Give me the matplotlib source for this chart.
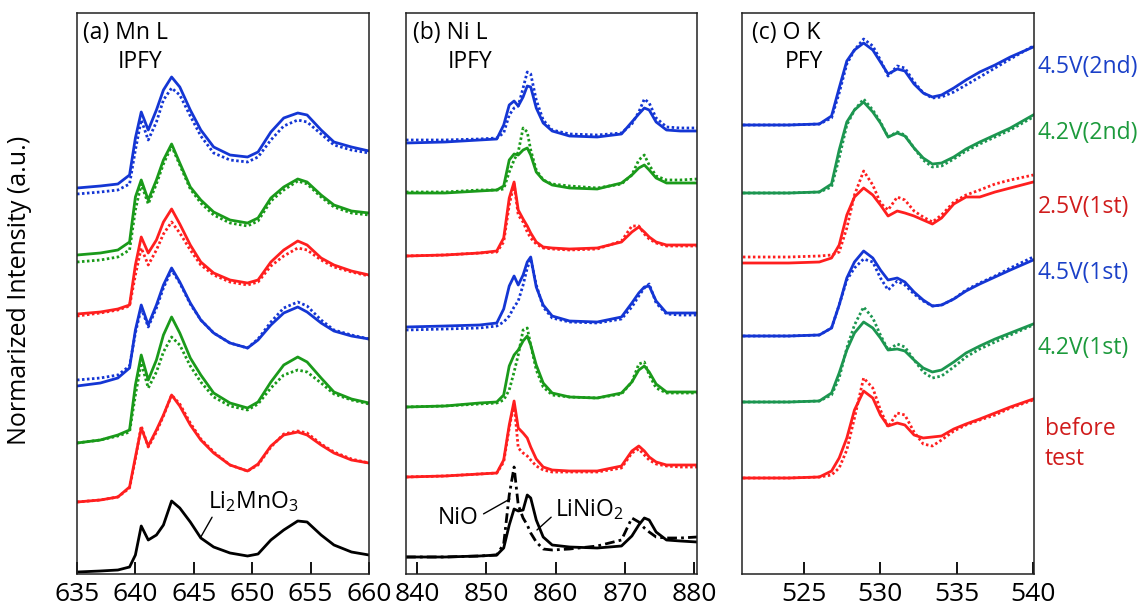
import numpy as np
import matplotlib
matplotlib.use("Agg")
import matplotlib.pyplot as plt

plt.rcParams['font.family'] = ['Open Sans', 'DejaVu Sans']
plt.rcParams['mathtext.default'] = 'regular'

# ---- data ----
labels = ['4.5V(2nd)', '4.2V(2nd)', '2.5V(1st)', '4.5V(1st)', '4.2V(1st)', 'before\ntest']

# (a) Mn L-edge, IPFY
e_mn = [635, 637, 638.5, 639.5, 640.0, 640.5, 641.1, 641.8, 642.4, 643.1, 643.8, 644.7, 645.6,
        646.7, 648.1, 649.6, 650.5, 651.6, 652.7, 653.9, 654.7, 655.9, 657.0, 658.5, 660]
mn_45v_2nd = [0, .02, .04, .13, .50, .76, .58, .78, .98, 1.11, 1.01, .78, .58, .41, .33, .31, .36, .56, .70, .75, .73, .58, .46, .41, .37]
mn_45v_2nd_dot = [-.06, -.04, -.02, .04, .38, .68, .48, .66, .88, 1.00, .93, .72, .52, .35, .28, .26, .31, .48, .62, .68, .66, .54, .43, .38, .35]
mn_42v_2nd = [0, .02, .05, .13, .58, .75, .55, .75, .95, 1.11, .92, .68, .55, .43, .35, .32, .37, .57, .68, .76, .73, .60, .50, .44, .42]
mn_42v_2nd_dot = [-.07, -.05, -.02, .05, .45, .71, .51, .71, .91, 1.09, .90, .66, .52, .40, .32, .29, .34, .54, .65, .74, .71, .58, .48, .42, .40]
mn_25v_1st = [0, .02, .05, .09, .49, .77, .61, .74, .92, 1.05, .90, .69, .52, .41, .34, .31, .34, .52, .64, .73, .69, .56, .49, .43, .39]
mn_25v_1st_dot = [-.02, .01, .04, .08, .39, .66, .49, .64, .80, .92, .81, .64, .49, .39, .32, .29, .32, .48, .58, .66, .64, .54, .47, .42, .38]
mn_45v_1st = [0, .03, .08, .18, .56, .81, .61, .81, 1.01, 1.18, 1.04, .83, .66, .53, .43, .38, .46, .61, .73, .79, .74, .63, .55, .50, .47]
mn_45v_1st_dot = [.06, .08, .11, .20, .53, .78, .59, .78, .98, 1.16, 1.03, .82, .66, .53, .43, .38, .47, .64, .78, .84, .80, .66, .56, .51, .47]
mn_42v_1st = [0, .03, .08, .13, .58, .88, .63, .83, 1.08, 1.26, 1.10, .85, .68, .50, .40, .35, .41, .61, .78, .86, .81, .65, .51, .44, .40]
mn_42v_1st_dot = [0, .03, .07, .11, .48, .80, .55, .71, .91, 1.06, .98, .77, .61, .46, .37, .33, .39, .55, .68, .73, .71, .60, .49, .43, .39]
mn_before = [0, .02, .05, .15, .45, .74, .56, .72, .87, 1.07, .96, .77, .62, .49, .37, .31, .38, .56, .67, .70, .67, .57, .49, .42, .39]
mn_before_dot = [0, .02, .05, .14, .43, .76, .55, .70, .86, 1.07, .98, .79, .63, .50, .37, .31, .37, .55, .68, .71, .69, .58, .50, .43, .39]
mn_li2mno3 = [0, .01, .02, .05, .17, .46, .32, .37, .47, .71, .64, .50, .34, .25, .19, .16, .18, .32, .42, .51, .50, .37, .27, .20, .17]

# (b) Ni L-edge, IPFY
e_ni = [838.4, 844, 849, 851.5, 852.5, 853.3, 854.0, 854.6, 855.3, 855.9, 856.4, 857.2, 858.2,
        859.5, 862, 866, 869.5, 871, 872, 872.8, 873.5, 874.5, 876, 878, 880.4]
ni_45v_2nd = [0, .01, .03, .04, .18, .38, .42, .37, .46, .57, .56, .35, .20, .12, .07, .06, .09, .21, .29, .35, .33, .21, .13, .12, .12]
ni_45v_2nd_dot = [.03, .03, .04, .05, .10, .28, .35, .37, .55, .71, .69, .43, .23, .13, .09, .08, .10, .19, .31, .44, .40, .25, .16, .15, .15]
ni_42v_2nd = [0, 0, .02, .03, .07, .33, .39, .38, .43, .45, .38, .21, .13, .08, .05, .04, .10, .18, .25, .28, .23, .15, .10, .10, .10]
ni_42v_2nd_dot = [.01, .01, .03, .03, .04, .21, .33, .41, .65, .61, .43, .23, .13, .09, .07, .05, .09, .18, .33, .38, .28, .17, .13, .13, .14]
ni_25v_1st = [0, .01, .03, .05, .18, .58, .74, .46, .37, .30, .23, .14, .09, .08, .07, .08, .14, .24, .29, .24, .19, .14, .11, .11, .11]
ni_25v_1st_dot = [0, .01, .03, .04, .14, .51, .72, .41, .34, .24, .18, .12, .08, .07, .06, .07, .15, .30, .30, .22, .17, .13, .10, .10, .10]
ni_45v_1st = [0, .01, .02, .04, .18, .41, .51, .42, .52, .65, .70, .40, .22, .11, .06, .05, .10, .24, .34, .40, .41, .26, .14, .14, .14]
ni_45v_1st_dot = [-.03, -.02, -.01, .01, .05, .11, .20, .26, .42, .59, .68, .42, .20, .09, .05, .04, .08, .20, .31, .39, .43, .24, .13, .12, .12]
ni_42v_1st = [0, .01, .04, .05, .12, .41, .52, .57, .66, .71, .62, .42, .24, .14, .10, .09, .14, .25, .37, .41, .35, .23, .15, .15, .15]
ni_42v_1st_dot = [0, .01, .03, .04, .07, .17, .35, .52, .77, .79, .62, .37, .20, .12, .10, .09, .13, .25, .43, .45, .32, .19, .14, .14, .14]
ni_before = [0, .01, .03, .04, .17, .52, .76, .49, .44, .39, .30, .18, .10, .07, .06, .06, .11, .26, .31, .26, .20, .15, .12, .12, .12]
ni_before_dot = [0, .01, .03, .04, .15, .49, .74, .29, .24, .21, .17, .11, .07, .05, .05, .05, .09, .24, .28, .22, .17, .13, .11, .10, .10]
ni_linio2 = [0, 0, .01, .02, .09, .32, .48, .46, .47, .62, .59, .37, .20, .12, .10, .09, .11, .21, .32, .39, .37, .25, .17, .16, .15]
ni_nio = [0, 0, .01, .02, .13, .62, .90, .52, .39, .32, .24, .15, .08, .07, .08, .11, .17, .39, .35, .29, .25, .20, .19, .19, .20]

# (c) O K-edge, PFY
e_o = [521, 524, 526, 526.8, 527.3, 527.8, 528.3, 528.9, 529.5, 530.0, 530.5, 531.1, 531.6,
       532.2, 532.8, 533.4, 534.0, 534.8, 535.6, 536.5, 537.5, 538.5, 540]
o_45v_2nd = [0, 0, .01, .09, .37, .64, .75, .82, .75, .63, .51, .56, .54, .41, .32, .28, .30, .37, .45, .53, .60, .68, .78]
o_45v_2nd_dot = [0, 0, .01, .07, .32, .61, .75, .86, .79, .65, .49, .59, .57, .43, .32, .27, .28, .33, .40, .48, .57, .66, .79]
o_42v_2nd = [0, 0, .01, .09, .43, .71, .83, .91, .81, .70, .56, .60, .57, .45, .35, .29, .30, .36, .44, .51, .58, .65, .78]
o_42v_2nd_dot = [0, 0, .01, .06, .35, .68, .83, .94, .83, .71, .56, .61, .58, .45, .33, .26, .27, .34, .42, .49, .56, .63, .76]
o_25v_1st = [0, 0, .01, .05, .18, .48, .66, .75, .68, .58, .47, .52, .50, .47, .43, .39, .45, .59, .66, .66, .71, .75, .81]
o_25v_1st_dot = [.06, .06, .07, .08, .11, .35, .68, .92, .78, .60, .53, .66, .63, .52, .46, .41, .48, .61, .68, .73, .79, .83, .88]
o_45v_1st = [0, 0, .01, .08, .31, .58, .74, .85, .78, .66, .56, .58, .54, .44, .36, .30, .31, .37, .45, .52, .59, .66, .76]
o_45v_1st_dot = [0, 0, .01, .08, .31, .56, .68, .77, .74, .58, .46, .55, .51, .42, .35, .30, .31, .37, .46, .53, .60, .68, .79]
o_42v_1st = [0, 0, .01, .09, .29, .52, .69, .80, .74, .64, .52, .53, .51, .42, .34, .30, .32, .40, .49, .56, .63, .69, .78]
o_42v_1st_dot = [0, 0, .01, .07, .24, .54, .77, .95, .84, .67, .52, .58, .55, .42, .30, .24, .26, .35, .45, .53, .60, .67, .77]
o_before = [0, 0, .01, .07, .20, .40, .68, .87, .80, .63, .52, .55, .53, .43, .40, .41, .42, .49, .54, .59, .65, .71, .79]
o_before_dot = [0, 0, .01, .03, .10, .28, .60, 1.00, .90, .68, .51, .65, .63, .46, .34, .32, .38, .47, .53, .58, .63, .70, .78]

# ---- styles / layout ----
BLUE = '#1436d4'
GREEN = '#1a9a1a'
GREEN_O = '#1c9650'
RED = '#ff1f1f'
lab_colors = ['#1a40c8', '#1c9a3c', '#d01c1c', '#1a40c8', '#1c9a3c', '#d01c1c']
LW = 2.0
DOT = (0, (0.9, 0.9))
FS = 16.5

fig = plt.figure(figsize=(11.41, 6.12), dpi=100)
W, H = 1141, 612
bottom, top = 574, 13


def make_ax(left, right):
    ax = fig.add_axes([left / W, (H - bottom) / H, (right - left) / W, (bottom - top) / H])
    ax.set_ylim(0, (bottom - top) / 100)
    ax.set_yticks([])
    ax.tick_params(axis='x', direction='in', length=9, width=1.3, labelsize=19, pad=6, top=False)
    for s in ax.spines.values():
        s.set_linewidth(1.1)
        s.set_color('#222222')
    return ax


def stack(ax, x, solids, dots, offsets, colors):
    for ys, yd, off, c in zip(solids, dots, offsets, colors):
        ax.plot(x, np.array(yd) + off, color=c, lw=LW, ls=DOT)
        ax.plot(x, np.array(ys) + off, color=c, lw=LW)


# (a)
axa = make_ax(77, 369)
axa.set_xlim(635, 660)
axa.set_xticks([635, 640, 645, 650, 655, 660])
stack(axa, e_mn,
      [mn_45v_2nd, mn_42v_2nd, mn_25v_1st, mn_45v_1st, mn_42v_1st, mn_before],
      [mn_45v_2nd_dot, mn_42v_2nd_dot, mn_25v_1st_dot, mn_45v_1st_dot, mn_42v_1st_dot, mn_before_dot],
      [3.86, 3.19, 2.60, 1.88, 1.31, 0.72],
      [BLUE, GREEN, RED, BLUE, GREEN, RED])
axa.plot(e_mn, np.array(mn_li2mno3) + 0.02, color='black', lw=LW)
axa.annotate('Li$_2$MnO$_3$', xy=(645.6, 0.37), xytext=(646.2, 0.72), fontsize=FS,
             ha='left', va='center',
             arrowprops=dict(arrowstyle='-', lw=1, color='black', relpos=(0.08, 0.1), shrinkA=0, shrinkB=0))
axa.text(0.02, 0.964, '(a) Mn L', transform=axa.transAxes, fontsize=FS, va='center')
axa.text(0.14, 0.913, 'IPFY', transform=axa.transAxes, fontsize=FS, va='center')

# (b)
axb = make_ax(406, 697)
axb.set_xlim(838.4, 880.4)
axb.set_xticks([840, 850, 860, 870, 880])
stack(axb, e_ni,
      [ni_45v_2nd, ni_42v_2nd, ni_25v_1st, ni_45v_1st, ni_42v_1st, ni_before],
      [ni_45v_2nd_dot, ni_42v_2nd_dot, ni_25v_1st_dot, ni_45v_1st_dot, ni_42v_1st_dot, ni_before_dot],
      [4.31, 3.81, 3.18, 2.47, 1.67, 0.97],
      [BLUE, GREEN, RED, BLUE, GREEN, RED])
axb.plot(e_ni, np.array(ni_nio) + 0.17, color='black', lw=LW, ls=(0, (3.5, 1.5, 1, 1.5)))
axb.plot(e_ni, np.array(ni_linio2) + 0.17, color='black', lw=LW)
axb.annotate('NiO', xy=(853.4, 0.75), xytext=(845.9, 0.56), fontsize=FS,
             ha='center', va='center',
             arrowprops=dict(arrowstyle='-', lw=1, color='black', relpos=(1.0, 0.55), shrinkA=2, shrinkB=0))
axb.annotate('LiNiO$_2$', xy=(857.3, 0.44), xytext=(859.9, 0.64), fontsize=FS,
             ha='left', va='center',
             arrowprops=dict(arrowstyle='-', lw=1, color='black', relpos=(0.0, 0.35), shrinkA=1, shrinkB=0))
axb.text(0.024, 0.964, '(b) Ni L', transform=axb.transAxes, fontsize=FS, va='center')
axb.text(0.144, 0.913, 'IPFY', transform=axb.transAxes, fontsize=FS, va='center')

# (c)
axc = make_ax(742, 1034)
axc.set_xlim(520.94, 540.05)
axc.set_xticks([525, 530, 535, 540])
stack(axc, e_o,
      [o_45v_2nd, o_42v_2nd, o_25v_1st, o_45v_1st, o_42v_1st, o_before],
      [o_45v_2nd_dot, o_42v_2nd_dot, o_25v_1st_dot, o_45v_1st_dot, o_42v_1st_dot, o_before_dot],
      [4.49, 3.81, 3.11, 2.38, 1.72, 0.96],
      [BLUE, GREEN_O, RED, BLUE, GREEN_O, RED])
axc.text(0.033, 0.964, '(c) O K', transform=axc.transAxes, fontsize=FS, va='center')
axc.text(0.147, 0.913, 'PFY', transform=axc.transAxes, fontsize=FS, va='center')

# series labels on the right
lab_y = [67, 133, 207, 273, 348, 444]
for lab, c, yy in zip(labels, lab_colors, lab_y):
    xx = 1045 if '\n' in lab else 1038
    fig.text(xx / W, 1 - yy / H, lab, color=c, fontsize=FS, va='center', ha='left', linespacing=1.3)

fig.text(20 / W, 1 - 290 / H, 'Normarized Intensity (a.u.)', rotation=90, fontsize=18,
         va='center', ha='center')

fig.savefig('out.png', dpi=100)
